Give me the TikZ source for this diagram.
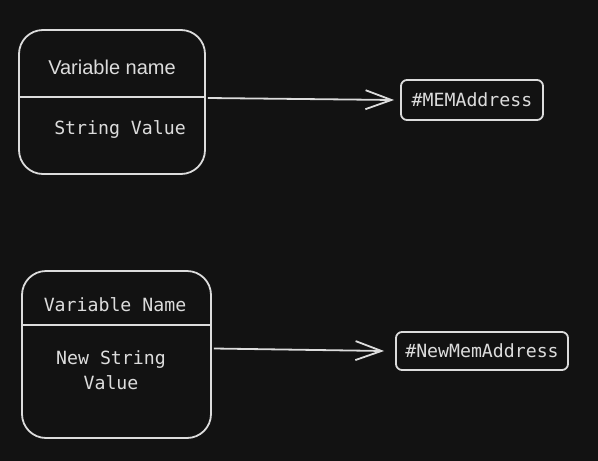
\documentclass[tikz,border=0pt]{standalone}
\usepackage{fontspec}
\setmonofont{DejaVu Sans Mono}
\setsansfont{Liberation Sans}
\usetikzlibrary{arrows.meta}
\definecolor{bg}{HTML}{121212}
\definecolor{ink}{HTML}{DCDCDC}
\begin{document}
\begin{tikzpicture}[x=1pt,y=-1pt,
  ln/.style={draw=ink,line width=1.8pt},
  bigbox/.style={ln,rounded corners=24pt,inner sep=0pt},
  addrbox/.style={ln,rounded corners=6pt,inner sep=0pt,font=\ttfamily\fontsize{18.2}{20}\selectfont,text=ink},
  txt/.style={text=ink,font=\ttfamily\fontsize{18.2}{25}\selectfont,align=center},
  hand/.style={text=ink,font=\sffamily\fontsize{20}{22}\selectfont},
  arr/.style={ln,-{Straight Barb[length=26pt,width=19pt,line width=1.8pt]}}]
\fill[bg] (0,0) rectangle (598,461);
\useasboundingbox (0,0) rectangle (598,461);
% top structure
\node[bigbox,minimum width=186pt,minimum height=144pt] (b1) at (112,102) {};
\coordinate (d1l) at (19,97);
\coordinate (d1r) at (205,97);
\draw[ln] (d1l) -- (d1r);
\node[hand] (v1) at (112,67) {Variable name};
\node[txt] (s1) at (120,129) {String Value};
\node[addrbox,minimum width=142pt,minimum height=40pt] (m1) at (472,100) {\#MEMAddress};
\draw[arr] ([xshift=2pt,yshift=4pt]b1.east) -- ([xshift=-6pt]m1.west);
% bottom structure
\node[bigbox,minimum width=189pt,minimum height=167pt] (b2) at (116.5,354.5) {};
\coordinate (d2l) at (22,325);
\coordinate (d2r) at (211,325);
\draw[ln] (d2l) -- (d2r);
\node[txt] (v2) at (115,305) {Variable Name};
\node[txt] (s2) at (111,370) {New String\\Value};
\node[addrbox,minimum width=172pt,minimum height=38pt] (m2) at (482,351) {\#NewMemAddress};
\draw[arr] ([xshift=2pt,yshift=6pt]b2.east) -- ([xshift=-11pt]m2.west);
\end{tikzpicture}
\end{document}
